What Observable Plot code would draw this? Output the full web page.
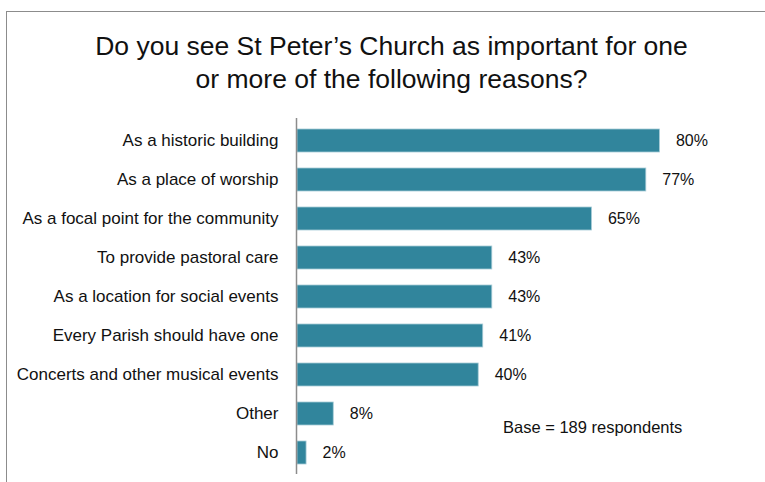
<!DOCTYPE html>
<html><head><meta charset="utf-8">
<script src="https://cdn.jsdelivr.net/npm/d3@7"></script>
<script src="https://cdn.jsdelivr.net/npm/@observablehq/plot@0.6"></script>
<style>
body{margin:0;background:#fff;}
#wrap{position:relative;width:765px;height:482px;overflow:hidden;font-family:"Liberation Sans",Arial,sans-serif;color:#111;}
#frame{position:absolute;left:6px;top:11px;width:800px;height:520px;border-top:1.5px solid #8c8c8c;border-left:1.5px solid #8c8c8c;}
#title{position:absolute;left:0;top:30px;width:783px;text-align:center;font-size:26.5px;line-height:33px;}
#chart{position:absolute;left:0;top:0;}
#base{position:absolute;left:503px;top:417px;font-size:16.5px;line-height:20px;white-space:nowrap;}
</style>
</head><body>
<div id="wrap">
<div id="frame"></div>
<div id="chart"></div>
<div id="title">Do you see St Peter’s Church as important for one<br>or more of the following reasons?</div>
<div id="base">Base = 189 respondents</div>
</div>
<script>
const categories = [
  "As a historic building",
  "As a place of worship",
  "As a focal point for the community",
  "To provide pastoral care",
  "As a location for social events",
  "Every Parish should have one",
  "Concerts and other musical events",
  "Other",
  "No"
];
const values = [80, 77, 65, 43, 43, 41, 40, 8, 2];
const data = categories.map((c, i) => ({reason: c, pct: values[i]}));

const chart = Plot.plot({
  width: 765,
  height: 482,
  marginLeft: 297,
  marginRight: 15,
  marginTop: 118,
  marginBottom: 8,
  x: {domain: [0, 100], axis: null},
  y: {domain: categories, label: null, paddingInner: 0.412, paddingOuter: 0.2, align: 0.5},
  style: {fontFamily: "'Liberation Sans', Arial, sans-serif", fontSize: "17px", color: "#111", background: "transparent"},
  marks: [
    Plot.barX(data, {x: "pct", y: "reason", fill: "#31859c", stroke: "#a6cbd6", strokeWidth: 0.8}),
    Plot.ruleX([0], {stroke: "#8c8c8c", strokeWidth: 1.5, dx: -1}),
    Plot.text(data, {x: "pct", y: "reason", text: d => d.pct + "%", textAnchor: "start", dx: 16, fontSize: 16, fill: "#111"}),
    Plot.axisY({tickSize: 0, tickPadding: 19, label: null, fontSize: 17})
  ]
});
document.getElementById("chart").appendChild(chart);
</script>
</body></html>
